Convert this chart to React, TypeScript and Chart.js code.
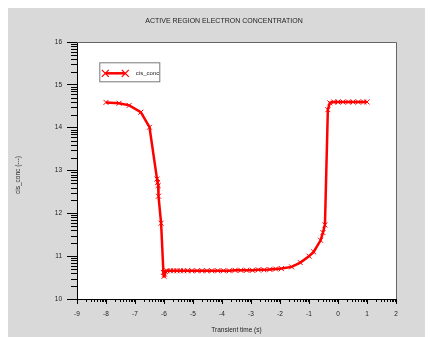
import React, { useEffect, useRef } from "react";
import { Chart, registerables } from "chart.js";

Chart.register(...registerables);

const chartTitle = "ACTIVE REGION ELECTRON CONCENTRATION";
const xTitle = "Transient time (s)";
const yTitle = "cis_conc (---)";
const seriesName = "cis_conc";

const timeValues = [
  -8.0, -7.55, -7.2, -6.8, -6.5, -6.24, -6.22, -6.2, -6.19, -6.1, -6.02, -6.0, -5.98, -5.95,
  -5.9, -5.78, -5.67, -5.55, -5.44, -5.32, -5.19, -5.04, -4.86, -4.69, -4.52, -4.35, -4.15,
  -3.95, -3.75, -3.55, -3.35, -3.15, -2.95, -2.75, -2.55, -2.35, -2.15, -1.95, -1.6, -1.3,
  -1.0, -0.84, -0.6, -0.52, -0.45, -0.35, -0.28, -0.15, 0.0, 0.17, 0.36, 0.52, 0.7, 0.88, 1.0,
];
const concValues = [
  14.59, 14.57, 14.52, 14.36, 14.01, 12.8, 12.72, 12.65, 12.4, 11.77, 10.62, 10.53, 10.58, 10.64,
  10.66, 10.66, 10.66, 10.66, 10.66, 10.66, 10.66, 10.66, 10.66, 10.66, 10.66, 10.66, 10.66,
  10.66, 10.66, 10.67, 10.67, 10.67, 10.67, 10.68, 10.68, 10.69, 10.7, 10.71, 10.75, 10.85,
  11.0, 11.1, 11.37, 11.55, 11.73, 14.42, 14.58, 14.6, 14.6, 14.6, 14.6, 14.6, 14.6, 14.6, 14.6,
];

const xMin = -9;
const xMax = 2;
const yMin = 10;
const yMax = 16;

const FONT = "'Liberation Sans', Arial, sans-serif";
const RED = "#ff0000";

const decorPlugin = {
  id: "decor",
  beforeDraw(chart: any) {
    const { ctx, chartArea } = chart;
    ctx.save();
    ctx.fillStyle = "#d9d9d9";
    ctx.fillRect(0, 0, chart.width, chart.height);
    ctx.fillStyle = "#ffffff";
    ctx.fillRect(chartArea.left, chartArea.top, chartArea.right - chartArea.left, chartArea.bottom - chartArea.top);
    ctx.restore();
  },
  afterDraw(chart: any) {
    const { ctx, chartArea } = chart;
    const xs = chart.scales.x;
    const ys = chart.scales.y;
    ctx.save();
    // frame top/right
    ctx.strokeStyle = "#666";
    ctx.lineWidth = 1;
    ctx.beginPath();
    ctx.moveTo(chartArea.left, chartArea.top + 0.5);
    ctx.lineTo(chartArea.right + 0.5, chartArea.top + 0.5);
    ctx.lineTo(chartArea.right + 0.5, chartArea.bottom);
    ctx.stroke();
    // minor ticks
    ctx.strokeStyle = "#000";
    ctx.beginPath();
    for (let v = yMin; v < yMax; v++) {
      for (let k = 2; k <= 9; k++) {
        const py = Math.round(ys.getPixelForValue(v + Math.log10(k))) + 0.5;
        ctx.moveTo(chartArea.left - 6, py);
        ctx.lineTo(chartArea.left, py);
      }
    }
    for (let v = xMin; v < xMax; v++) {
      for (let k = 2; k <= 9; k++) {
        const px = Math.round(xs.getPixelForValue(v + Math.log10(k))) + 0.5;
        ctx.moveTo(px, chartArea.bottom);
        ctx.lineTo(px, chartArea.bottom + 3);
      }
    }
    ctx.stroke();
    // titles
    ctx.fillStyle = "#222";
    ctx.textAlign = "center";
    ctx.textBaseline = "middle";
    ctx.font = `7px ${FONT}`;
    ctx.fillText(chartTitle, 216, 13);
    ctx.font = `6.5px ${FONT}`;
    ctx.fillText(xTitle, (chartArea.left + chartArea.right) / 2, 322.5);
    ctx.save();
    ctx.translate(10.5, 167);
    ctx.rotate(-Math.PI / 2);
    ctx.fillText(yTitle, 0, 0);
    ctx.restore();
    // legend
    const lx = chartArea.left + 22.3;
    const ly = chartArea.top + 20.3;
    ctx.strokeStyle = "#777";
    ctx.strokeRect(lx + 0.5, ly + 0.5, 60, 19);
    ctx.strokeStyle = RED;
    ctx.lineWidth = 2.5;
    ctx.beginPath();
    ctx.moveTo(lx + 6, ly + 11);
    ctx.lineTo(lx + 26, ly + 11);
    ctx.stroke();
    ctx.lineWidth = 1.2;
    for (const cx of [lx + 6, lx + 26]) {
      ctx.beginPath();
      ctx.moveTo(cx - 3.5, ly + 7.5);
      ctx.lineTo(cx + 3.5, ly + 14.5);
      ctx.moveTo(cx - 3.5, ly + 14.5);
      ctx.lineTo(cx + 3.5, ly + 7.5);
      ctx.stroke();
    }
    ctx.fillStyle = "#222";
    ctx.textAlign = "left";
    ctx.font = `6px ${FONT}`;
    ctx.fillText(seriesName, lx + 36.5, ly + 11.5);
    ctx.restore();
  },
};

export default function App() {
  const ref = useRef<HTMLCanvasElement | null>(null);
  useEffect(() => {
    if (!ref.current) return;
    const points = timeValues.map((t, i) => ({ x: t, y: concValues[i] }));
    const chart = new Chart(ref.current, {
      type: "line",
      data: {
        datasets: [
          {
            label: seriesName,
            data: points,
            borderColor: RED,
            backgroundColor: RED,
            borderWidth: 2.5,
            pointStyle: "crossRot",
            pointRadius: 3.5,
            pointBorderWidth: 1,
            pointBorderColor: RED,
            tension: 0,
            fill: false,
          },
        ],
      },
      options: {
        responsive: false,
        animation: false,
        events: [],
        layout: { padding: { top: 34, right: 37, bottom: 0, left: 0 } },
        plugins: { legend: { display: false }, title: { display: false }, tooltip: { enabled: false } },
        scales: {
          x: {
            type: "linear",
            min: xMin,
            max: xMax,
            afterFit: (s: any) => {
              s.height = 38;
            },
            ticks: {
              stepSize: 1,
              color: "#222",
              padding: 6,
              font: { family: FONT, size: 6.5 },
              maxRotation: 0,
            },
            grid: { drawOnChartArea: false, tickLength: 5, color: "#000", tickWidth: 1 },
            border: { color: "#000", width: 1 },
          },
          y: {
            type: "linear",
            min: yMin,
            max: yMax,
            afterFit: (s: any) => {
              s.width = 69;
            },
            ticks: {
              stepSize: 1,
              color: "#222",
              padding: 5,
              font: { family: FONT, size: 6.5 },
            },
            grid: { drawOnChartArea: false, tickLength: 10, color: "#000", tickWidth: 1 },
            border: { color: "#000", width: 1 },
          },
        },
      },
      plugins: [decorPlugin],
    });
    return () => chart.destroy();
  }, []);
  return <canvas ref={ref} width={425} height={329} style={{ display: "block" }} />;
}
